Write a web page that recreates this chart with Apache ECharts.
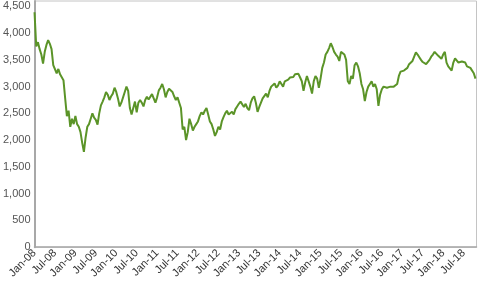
<!DOCTYPE html>
<html><head><meta charset="utf-8">
<script src="https://cdn.jsdelivr.net/npm/echarts@6/dist/echarts.min.js"></script>
<style>html,body{margin:0;padding:0;background:#fff}#c{width:478px;height:281px}</style>
</head><body><div id="c"></div>
<script>
// Semi-monthly index levels, Jan 2008 .. Oct 2018 (two readings per month)
const values2008 = [4390,3750,3830,3700,3600,3430,3650,3780,3870,3800,3700,3400,3380,3250,3330,3230,3250,3120,2780,2450,2550,2250,2400,2300];
const values2009 = [2450,2300,2250,2150,1950,1780,2050,2250,2300,2400,2500,2420,2380,2290,2500,2650,2720,2800,2900,2850,2750,2820,2870,2980];
const values2010 = [2900,2780,2630,2700,2800,2900,3000,2920,2600,2480,2600,2720,2520,2700,2750,2700,2630,2750,2810,2760,2780,2860,2870,2700];
const values2011 = [2800,2930,2980,3050,2950,2800,2900,2960,2980,2900,2820,2750,2800,2700,2600,2200,2250,2000,2150,2400,2300,2180,2250,2300];
const values2012 = [2350,2450,2520,2480,2550,2600,2480,2350,2300,2200,2080,2150,2250,2200,2350,2430,2500,2550,2480,2500,2530,2480,2580,2630];
const values2013 = [2680,2720,2700,2620,2680,2600,2560,2700,2780,2820,2700,2530,2620,2700,2780,2800,2870,2800,2920,3000,3020,3060,2980,3020];
const values2014 = [3100,3080,3000,3100,3100,3130,3170,3150,3180,3230,3260,3240,3170,3100,2920,3080,3200,3230,3000,2870,3100,3200,3150,2980];
const values2015 = [3150,3350,3450,3600,3650,3720,3810,3740,3650,3600,3560,3480,3650,3620,3600,3500,3100,3050,3200,3150,3400,3450,3380,3250];
const values2016 = [3050,2950,2730,2900,3000,3050,3100,3000,3050,2950,2640,2850,2950,3000,3000,2980,2950,3000,3020,3000,3010,3050,3200,3280];
const values2017 = [3250,3300,3280,3350,3420,3450,3480,3560,3640,3600,3550,3500,3460,3480,3420,3450,3500,3560,3600,3650,3620,3580,3550,3520];
const values2018 = [3600,3650,3450,3380,3350,3300,3450,3530,3560,3450,3420,3470,3460,3450,3380,3400,3350,3380,3250,3150];
const values = [].concat(values2008,values2009,values2010,values2011,values2012,values2013,values2014,values2015,values2016,values2017,values2018);
const tickLabels = ['Jan-08','Jul-08','Jan-09','Jul-09','Jan-10','Jul-10','Jan-11','Jul-11','Jan-12','Jul-12','Jan-13','Jul-13','Jan-14','Jul-14','Jan-15','Jul-15','Jan-16','Jul-16','Jan-17','Jul-17','Jan-18','Jul-18'];
const yTicks = [0,500,1000,1500,2000,2500,3000,3500,4000,4500];

const data = values.map((v,i)=>[i*0.5, v]); // x = months since Jan 2008
const chart = echarts.init(document.getElementById('c'));
chart.setOption({
  animation:false,
  grid:{left:31, right:1.5, top:1, bottom:29, show:true, borderColor:'#c4c4c4', borderWidth:1},
  xAxis:{type:'value', min:0, max:129.8, interval:6,
    axisLine:{show:true, lineStyle:{color:'#a8a8a8', width:1.5}},
    axisTick:{show:false}, splitLine:{show:false},
    axisLabel:{rotate:45, margin:4, fontSize:11, fontFamily:'Liberation Sans, Arial, sans-serif', color:'#333',
      showMaxLabel:false,
      formatter:v=>{const k=v/6; return Number.isInteger(k)&&tickLabels[k]?tickLabels[k]:'';}}},
  yAxis:{type:'value', min:0, max:4600, interval:500,
    axisLine:{show:true, lineStyle:{color:'#a8a8a8', width:2}},
    axisTick:{show:false}, splitLine:{show:false},
    axisLabel:{margin:4, fontSize:11, fontFamily:'Liberation Sans, Arial, sans-serif', color:'#555', showMaxLabel:false,
      formatter:v=>yTicks.indexOf(v)>=0?v.toLocaleString('en-US'):''}},
  series:[{type:'line', data:data, showSymbol:false, symbol:'none',
    lineStyle:{color:'#5b9428', width:2}}]
});
</script></body></html>
